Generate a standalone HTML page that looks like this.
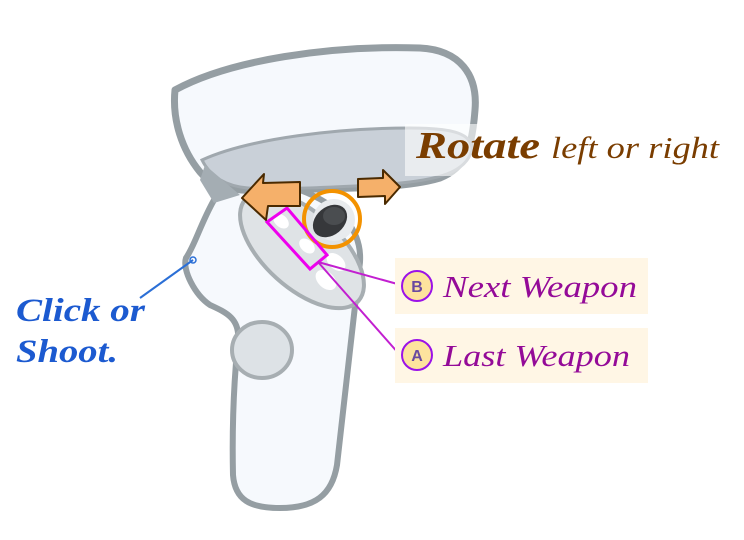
<!DOCTYPE html>
<html><head><meta charset="utf-8"><style>
html,body{margin:0;padding:0;background:#fff;}
svg{display:block;}
</style></head><body>
<svg width="744" height="540" viewBox="0 0 744 540" xmlns="http://www.w3.org/2000/svg">
  <g>
    <path d="M214,200 C200,225 195,245 186,258 C182,270 195,295 210,305 C225,312 240,318 238,340 C234,380 232,430 233,475 C235,500 250,508 280,508 C315,508 332,495 337,465 C345,400 352,330 360,262 C362,230 340,205 300,190 C270,180 230,185 214,200 Z" fill="#f6f9fd" stroke="#959ea3" stroke-width="6" stroke-linejoin="round"/>
    <ellipse cx="262" cy="350" rx="30" ry="28" fill="#dde2e6" stroke="#a7aeb2" stroke-width="4"/>
    <path d="M175,90 C230,60 330,45 420,48 C460,50 478,75 475,110 C472,150 465,168 440,178 C400,190 330,188 280,190 C240,192 215,190 200,172 C182,150 172,120 175,90 Z" fill="#f6f9fd" stroke="#959ea3" stroke-width="7" stroke-linejoin="round"/>
    <path d="M202,160 C250,138 340,128 410,128 C455,128 472,134 472,150 C466,172 440,180 390,184 C320,188 270,190 248,188 C225,186 210,176 202,160 Z" fill="#c9d0d8" stroke="#a0a8ae" stroke-width="3"/>
    <path d="M205,165 L240,195 L214,203 L200,180 Z" fill="#a4adb3"/>
    <ellipse cx="302" cy="250" rx="76" ry="38" transform="rotate(42 302 250)" fill="#dfe3e6" stroke="#a7aeb2" stroke-width="4"/>
    <ellipse cx="281" cy="221" rx="9" ry="6" transform="rotate(42 281 221)" fill="#fff"/>
    <ellipse cx="307" cy="246" rx="9" ry="6" transform="rotate(42 307 246)" fill="#fff"/>
    <ellipse cx="336" cy="262" rx="11" ry="7" transform="rotate(42 336 262)" fill="#fff"/>
    <ellipse cx="326" cy="280" rx="12" ry="8" transform="rotate(42 326 280)" fill="#fff"/>
    <circle cx="334" cy="220" r="21" fill="#e8ebee"/>
    <ellipse cx="330" cy="221" rx="19" ry="14" transform="rotate(-40 330 221)" fill="#36383b"/>
    <ellipse cx="334" cy="216" rx="11" ry="9" fill="#4a4d50"/>
  </g>
  <circle cx="332" cy="219" r="28" fill="none" stroke="#f39200" stroke-width="4"/>
  <polygon points="267,222 287,208 327,255 310,269" fill="none" stroke="#ee00ee" stroke-width="3"/>
  <line x1="318" y1="262" x2="401" y2="285" stroke="#c21fd0" stroke-width="2"/>
  <line x1="318" y1="262" x2="400" y2="355" stroke="#c21fd0" stroke-width="2"/>
  <polygon points="242,198 264,174 263,183 300,182 300,206 268,206 266,220" fill="#f5b06a" stroke="#4a2a00" stroke-width="2" stroke-linejoin="round"/>
  <polygon points="358,179 383,178 383,170 400,187 385,204 385,196 358,197" fill="#f5b06a" stroke="#4a2a00" stroke-width="2" stroke-linejoin="round"/>
  <line x1="193" y1="260" x2="140" y2="298" stroke="#2b6fd6" stroke-width="2"/>
  <circle cx="193" cy="260" r="3" fill="none" stroke="#2b6fd6" stroke-width="1.5"/>
  <rect x="405" y="124" width="330" height="52" fill="#ffffff" fill-opacity="0.6"/>
  <text x="416" y="158" font-family="'Liberation Serif',serif" font-style="italic" font-weight="bold" font-size="38" fill="#7a3d00" textLength="124" lengthAdjust="spacingAndGlyphs">Rotate</text>
  <text x="551" y="158" font-family="'Liberation Serif',serif" font-style="italic" font-size="31" fill="#7a3d00" textLength="168" lengthAdjust="spacingAndGlyphs">left or right</text>
  <text x="16" y="321" font-family="'Liberation Serif',serif" font-style="italic" font-weight="bold" font-size="33" fill="#1c5ad0" textLength="129" lengthAdjust="spacingAndGlyphs">Click or</text>
  <text x="16" y="362" font-family="'Liberation Serif',serif" font-style="italic" font-weight="bold" font-size="33" fill="#1c5ad0" textLength="102" lengthAdjust="spacingAndGlyphs">Shoot.</text>
  <rect x="395" y="258" width="253" height="56" fill="#fff6e5"/>
  <circle cx="417" cy="286" r="15" fill="#fde39e" stroke="#9b12e8" stroke-width="2"/>
  <text x="417" y="292" text-anchor="middle" font-family="'Liberation Sans',sans-serif" font-weight="bold" font-size="16" fill="#6a4aa0">B</text>
  <text x="443" y="297" font-family="'Liberation Serif',serif" font-style="italic" font-size="31" fill="#940a98" textLength="194" lengthAdjust="spacingAndGlyphs">Next Weapon</text>
  <rect x="395" y="328" width="253" height="55" fill="#fff6e5"/>
  <circle cx="417" cy="355" r="15" fill="#fde39e" stroke="#9b12e8" stroke-width="2"/>
  <text x="417" y="361" text-anchor="middle" font-family="'Liberation Sans',sans-serif" font-weight="bold" font-size="16" fill="#6a4aa0">A</text>
  <text x="443" y="366" font-family="'Liberation Serif',serif" font-style="italic" font-size="31" fill="#940a98" textLength="187" lengthAdjust="spacingAndGlyphs">Last Weapon</text>
</svg>
</body></html>
